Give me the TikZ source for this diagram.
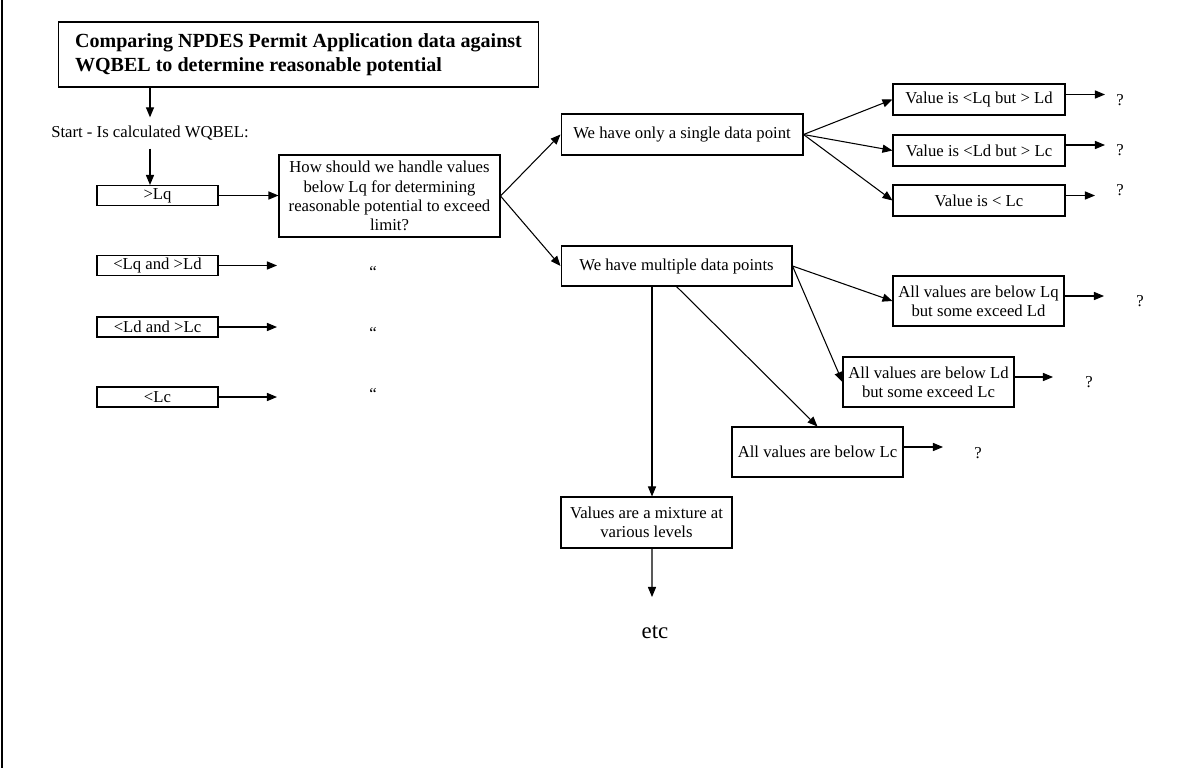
\documentclass[tikz,border=0pt]{standalone}
\usepackage{fontspec}
\setmainfont{Liberation Serif}
\usetikzlibrary{arrows.meta,positioning}

\begin{document}
\begin{tikzpicture}[
		x=0.02cm, y=-0.02cm,
		line width=0.6pt,
		box/.style={draw, inner sep=0pt, align=center, font=\fontsize{9.5}{10.9}\selectfont},
		lvl/.style={box, minimum width=2.42cm, minimum height=0.40cm},
		val/.style={box, minimum width=3.44cm, minimum height=0.62cm},
		allv/.style={box, minimum width=3.42cm, minimum height=1.00cm},
		txt/.style={inner sep=0pt, font=\fontsize{9.5}{10.9}\selectfont},
		>={Triangle[length=5.7pt,width=4.6pt]}
		]
	\useasboundingbox (0,0) rectangle (1204,768);
	\draw[line width=1pt] (2,0) -- (2,768);

	% title and start
	\node[box, minimum width=9.62cm, minimum height=1.30cm, align=left,
		font=\fontsize{11.4}{13.8}\selectfont\bfseries] (T) at (298.5,54.5)
		{Comparing NPDES Permit Application data against\\WQBEL to determine reasonable potential};
	\node[txt, inner ysep=0.16cm] (S) at (150,133) {Start - Is calculated WQBEL:};

	% levels of the WQBEL
	\node[lvl] (L1) at (157.5,195.5) {>Lq};
	\node[lvl] (L2) at (157.5,265.5) {<Lq and >Ld};
	\node[lvl] (L3) at (157.5,327) {<Ld and >Lc};
	\node[lvl] (L4) at (157.5,397) {<Lc};
	\coordinate (e2) at (277,265.5);
	\coordinate (e3) at (277,327);
	\coordinate (e4) at (277,397);
	\node[txt, anchor=base] (Q2) at (373,277) {“};
	\node[txt, anchor=base] (Q3) at (373,338) {“};
	\node[txt, anchor=base] (Q4) at (373,399) {“};

	\node[box, minimum width=4.42cm, minimum height=1.64cm] (H) at (389.5,196)
		{How should we handle values\\below Lq for determining\\reasonable potential to exceed\\limit?};

	% single data point
	\node[box, minimum width=4.84cm, minimum height=0.82cm] (One) at (682,134.5) {We have only a single data point};
	\node[val] (V1) at (979,99.5) {Value is <Lq but > Ld};
	\node[val] (V2) at (979,150.5) {Value is <Ld but > Lc};
	\node[val] (V3) at (979,200.5) {Value is < Lc};
	\coordinate (v1e) at (1105,94.5);
	\coordinate (v2e) at (1105,145);
	\coordinate (v3e) at (1095,195.5);
	\node[txt] (q1) at (1120,100) {?};
	\node[txt] (q2) at (1120,150) {?};
	\node[txt] (q3) at (1120,190) {?};

	% multiple data points
	\node[box, minimum width=4.62cm, minimum height=0.80cm] (Multi) at (676.5,266) {We have multiple data points};
	\node[allv] (A1) at (978.5,301) {All values are below Lq\\but some exceed Ld};
	\node[allv] (A2) at (928.5,382) {All values are below Ld\\but some exceed Lc};
	\node[allv] (A3) at (817.5,452) {All values are below Lc};
	\node[box, minimum width=3.42cm, minimum height=1.02cm] (Mix) at (646.5,522.5) {Values are a mixture at\\various levels};
	\coordinate (a1e) at (1104,296);
	\coordinate (a2e) at (1053,377);
	\coordinate (a3e) at (943,447);
	\node[txt] (q4) at (1140,301) {?};
	\node[txt] (q5) at (1089,382) {?};
	\node[txt] (q6) at (978,453) {?};
	\coordinate (mixe) at (652,597);
	\node[txt, font=\fontsize{13}{15}\selectfont] (etc) at (655,632) {etc};

	\draw[->] (S.north |- T.south) -- (S.north);
	\draw[->] (S.south) -- (S.south |- L1.north);
	\draw[->] (L1.east) -- (L1.east -| H.west);
	\draw[->] (L2.east) -- (e2);
	\draw[->] (L3.east) -- (e3);
	\draw[->] (L4.east) -- (e4);

	\draw[->] (H.east) -- (One.west);
	\draw[->] (H.east) -- (Multi.west);

	\draw[->] (One.east) -- (V1.west);
	\draw[->] (One.east) -- (V2.west);
	\draw[->] (One.east) -- (V3.west);
	\draw[->] (V1.east |- v1e) -- (v1e);
	\draw[->] (V2.east |- v2e) -- (v2e);
	\draw[->] (V3.east |- v3e) -- (v3e);

	\draw[->] (Multi.east) -- (A1.west);
	\draw[->] (Multi.east) -- (A2.west);
	\draw[->] (Multi.south) -- (A3.north);
	\draw[->] ([xshift=0.11cm]Mix.north |- Multi.south) -- ([xshift=0.11cm]Mix.north);
	\draw[->] (A1.east |- a1e) -- (a1e);
	\draw[->] (A2.east |- a2e) -- (a2e);
	\draw[->] (A3.east |- a3e) -- (a3e);
	\draw[->] ([xshift=0.11cm]Mix.south) -- (mixe);

\end{tikzpicture}
\end{document}
